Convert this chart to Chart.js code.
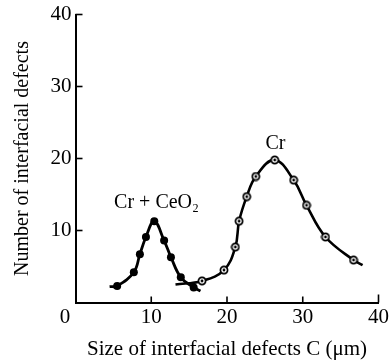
<!DOCTYPE html>
<html>
<head>
<meta charset="utf-8">
<script src="https://cdn.jsdelivr.net/npm/chart.js@4/dist/chart.umd.min.js"></script>
<style>
html,body{margin:0;padding:0;background:#fff;}
#wrap{width:391px;height:360px;position:relative;}
</style>
</head>
<body>
<div id="wrap"><canvas id="c" width="391" height="360"></canvas></div>
<script>
// Cr + CeO2 curve (first and last entries are the curve ends, no marker)
const ceo2X = [4.5, 5.5, 7.7, 8.5, 9.3, 10.4, 11.7, 12.6, 13.9, 15.6, 16.5];
const ceo2Y = [2.2, 2.3, 4.2, 6.7, 9.1, 11.3, 8.6, 6.3, 3.5, 2.1, 1.6];
// Cr curve (first and last entries are the curve ends, no marker)
const crX = [13.2, 16.7, 19.6, 21.1, 21.6, 22.6, 23.8, 26.3, 28.8, 30.5, 33.0, 36.7, 37.9];
const crY = [2.5, 3.0, 4.5, 7.7, 11.3, 14.7, 17.5, 19.8, 17.0, 13.5, 9.1, 5.9, 5.2];
const xTicks = [0, 10, 20, 30, 40];
const yTicks = [10, 20, 30, 40];
const labelCeO2 = {text: 'Cr + CeO\u2082', x: 10.7, y: 13.9};
const labelCr = {text: 'Cr', x: 26.4, y: 22.0};

const FONT = '"Liberation Serif", "Times New Roman", serif';

function ringImg() {
  const c = document.createElement('canvas');
  c.width = 10; c.height = 10;
  const g = c.getContext('2d');
  g.beginPath(); g.arc(5, 5, 3.6, 0, Math.PI * 2);
  g.fillStyle = '#fff'; g.fill();
  g.lineWidth = 1.7; g.strokeStyle = '#000'; g.stroke();
  g.beginPath(); g.arc(5, 5, 1.4, 0, Math.PI * 2);
  g.fillStyle = '#000'; g.fill();
  return c;
}

const endsHidden = (n, r) => ctx => (ctx.dataIndex === 0 || ctx.dataIndex === n - 1) ? 0 : r;

const innerTicks = {
  id: 'innerTicks',
  afterDraw(chart) {
    const {ctx, scales: {x, y}} = chart;
    ctx.save();
    ctx.strokeStyle = '#000';
    ctx.lineWidth = 1.6;
    xTicks.forEach(v => {
      if (v === 0) return;
      const px = x.getPixelForValue(v);
      ctx.beginPath(); ctx.moveTo(px, y.bottom); ctx.lineTo(px, y.bottom - (v === 40 ? 8 : 6)); ctx.stroke();
    });
    yTicks.forEach(v => {
      const py = y.getPixelForValue(v);
      ctx.beginPath(); ctx.moveTo(x.left, py); ctx.lineTo(x.left + 7, py); ctx.stroke();
    });
    ctx.fillStyle = '#000';
    ctx.font = '20px ' + FONT;
    ctx.textAlign = 'center';
    ctx.textBaseline = 'middle';
    [labelCeO2, labelCr].forEach(l => {
      ctx.fillText(l.text, x.getPixelForValue(l.x), y.getPixelForValue(l.y));
    });
    ctx.restore();
  }
};

new Chart(document.getElementById('c'), {
  type: 'line',
  data: {
    datasets: [
      {
        label: 'Cr + CeO2',
        data: ceo2X.map((v, i) => ({x: v, y: ceo2Y[i]})),
        borderColor: '#000',
        borderWidth: 2.8,
        tension: 0.4,
        pointRadius: endsHidden(ceo2X.length, 4),
        pointBackgroundColor: '#000',
        pointBorderColor: '#000',
        pointBorderWidth: 0,
        fill: false
      },
      {
        label: 'Cr',
        data: crX.map((v, i) => ({x: v, y: crY[i]})),
        borderColor: '#000',
        borderWidth: 2.6,
        tension: 0.4,
        pointStyle: ringImg(),
        pointRadius: endsHidden(crX.length, 4),
        fill: false
      }
    ]
  },
  options: {
    responsive: false,
    animation: false,
    events: [],
    layout: {padding: {top: 0, right: 10, left: 0, bottom: 0}},
    plugins: {legend: {display: false}, tooltip: {enabled: false}},
    scales: {
      x: {
        type: 'linear',
        min: 0, max: 40,
        afterBuildTicks: s => { s.ticks = xTicks.map(v => ({value: v})); },
        afterFit: s => { s.height = 57.5; },
        grid: {display: false, drawTicks: false},
        border: {display: true, color: '#000', width: 2},
        ticks: {
          color: '#000', padding: 2, maxRotation: 0,
          font: {family: FONT, size: 21},
          callback: v => v === 0 ? '0    ' : String(v)
        },
        title: {
          display: true, text: 'Size of interfacial defects C (\u03bcm)',
          color: '#000', font: {family: FONT, size: 21, lineHeight: 1.0}, padding: {top: 0, bottom: 0}
        }
      },
      y: {
        type: 'linear',
        min: 0, max: 40,
        afterBuildTicks: s => { s.ticks = yTicks.map(v => ({value: v})); },
        afterFit: s => { s.width = 75.5; },
        grid: {display: false, drawTicks: false},
        border: {display: true, color: '#000', width: 2},
        ticks: {color: '#000', padding: 4, font: {family: FONT, size: 21, lineHeight: 1.0}},
        title: {
          display: true, text: 'Number of interfacial defects',
          color: '#000', font: {family: FONT, size: 20}, padding: {top: 11, bottom: 0}
        }
      }
    }
  },
  plugins: [innerTicks]
});
</script>
</body>
</html>
